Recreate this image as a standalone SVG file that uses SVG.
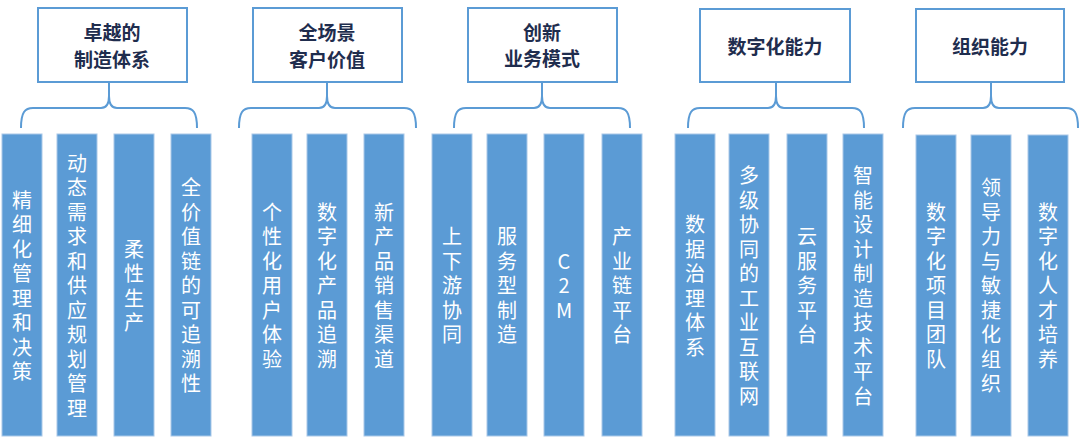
<svg xmlns="http://www.w3.org/2000/svg" width="1080" height="438" viewBox="0 0 1080 438">
<style>
.hdr{fill:#fff;stroke:#5b9bd5;stroke-width:2}
.ht{font-family:"Noto Sans CJK SC","Noto Sans",sans-serif;font-size:19px;font-weight:bold;fill:#1f2d4e;text-anchor:middle}
.col{fill:#5b9bd5;stroke:#a9c8e8;stroke-width:1}
.ct{font-family:"Noto Sans CJK SC","Noto Sans",sans-serif;font-size:20px;fill:#fff;writing-mode:vertical-rl;text-orientation:upright;text-anchor:middle;letter-spacing:4.5px}
.br{fill:none;stroke:#5b9bd5;stroke-width:2}
</style>
<rect width="1080" height="438" fill="#fff"/>
<g id="connectors">
<path class="br" d="M21,128 C21,112 25,108 33,108 L101,108 C106,108 109,104 109,96 L109,82 M109,96 C109,104 112,108 117,108 L185,108 C193,108 197,112 197,128"/>
<path class="br" d="M239,128 C239,112 243,108 251,108 L319,108 C324,108 327,104 327,96 L327,82 M327,96 C327,104 330,108 335,108 L404,108 C412,108 416,112 416,128"/>
<path class="br" d="M454,128 C454,112 458,108 466,108 L534,108 C539,108 542,104 542,96 L542,82 M542,96 C542,104 545,108 550,108 L618,108 C626,108 630,112 630,128"/>
<path class="br" d="M688,128 C688,112 692,108 700,108 L768,108 C773,108 776,104 776,96 L776,82 M776,96 C776,104 779,108 784,108 L852,108 C860,108 864,112 864,128"/>
<path class="br" d="M903,128 C903,112 907,108 915,108 L983,108 C988,108 991,104 991,96 L991,82 M991,96 C991,104 994,108 999,108 L1066,108 C1074,108 1078,112 1078,128"/>
</g>
<g id="h1"><rect class="hdr" x="38" y="8" width="149" height="74"/><text class="ht" x="112" y="40">卓越的</text><text class="ht" x="112" y="67">制造体系</text></g>
<g id="h2"><rect class="hdr" x="253" y="8" width="149" height="74"/><text class="ht" x="327" y="40">全场景</text><text class="ht" x="327" y="67">客户价值</text></g>
<g id="h3"><rect class="hdr" x="468" y="8" width="149" height="74"/><text class="ht" x="542" y="40">创新</text><text class="ht" x="542" y="66">业务模式</text></g>
<g id="h4"><rect class="hdr" x="700" y="9" width="150" height="73"/><text class="ht" x="775" y="54">数字化能力</text></g>
<g id="h5"><rect class="hdr" x="916" y="9" width="148" height="73"/><text class="ht" x="990" y="54">组织能力</text></g>
<g id="c1"><rect class="col" x="2" y="134" width="40" height="302"/><text class="ct" x="22" y="288">精细化管理和决策</text></g>
<g id="c2"><rect class="col" x="57" y="134" width="40" height="302"/><text class="ct" x="77" y="288">动态需求和供应规划管理</text></g>
<g id="c3"><rect class="col" x="114" y="134" width="40" height="302"/><text class="ct" x="134" y="288">柔性生产</text></g>
<g id="c4"><rect class="col" x="171" y="134" width="40" height="302"/><text class="ct" x="191" y="288">全价值链的可追溯性</text></g>
<g id="c5"><rect class="col" x="252" y="134" width="40" height="302"/><text class="ct" x="272" y="288">个性化用户体验</text></g>
<g id="c6"><rect class="col" x="307" y="134" width="40" height="302"/><text class="ct" x="327" y="288">数字化产品追溯</text></g>
<g id="c7"><rect class="col" x="364" y="134" width="40" height="302"/><text class="ct" x="384" y="288">新产品销售渠道</text></g>
<g id="c8"><rect class="col" x="432" y="134" width="40" height="302"/><text class="ct" x="452" y="288">上下游协同</text></g>
<g id="c9"><rect class="col" x="487" y="134" width="40" height="302"/><text class="ct" x="507" y="288">服务型制造</text></g>
<g id="c10"><rect class="col" x="544" y="134" width="40" height="302"/><text class="ct" x="564" y="288">C2M</text></g>
<g id="c11"><rect class="col" x="602" y="134" width="40" height="302"/><text class="ct" x="622" y="288">产业链平台</text></g>
<g id="c12"><rect class="col" x="675" y="134" width="40" height="302"/><text class="ct" x="695" y="288">数据治理体系</text></g>
<g id="c13"><rect class="col" x="729" y="134" width="40" height="302"/><text class="ct" x="749" y="288">多级协同的工业互联网</text></g>
<g id="c14"><rect class="col" x="787" y="134" width="40" height="302"/><text class="ct" x="807" y="288">云服务平台</text></g>
<g id="c15"><rect class="col" x="843" y="134" width="40" height="302"/><text class="ct" x="863" y="288">智能设计制造技术平台</text></g>
<g id="c16"><rect class="col" x="916" y="135" width="40" height="301"/><text class="ct" x="936" y="288">数字化项目团队</text></g>
<g id="c17"><rect class="col" x="971" y="135" width="40" height="301"/><text class="ct" x="991" y="288">领导力与敏捷化组织</text></g>
<g id="c18"><rect class="col" x="1028" y="135" width="40" height="301"/><text class="ct" x="1048" y="288">数字化人才培养</text></g>
</svg>
